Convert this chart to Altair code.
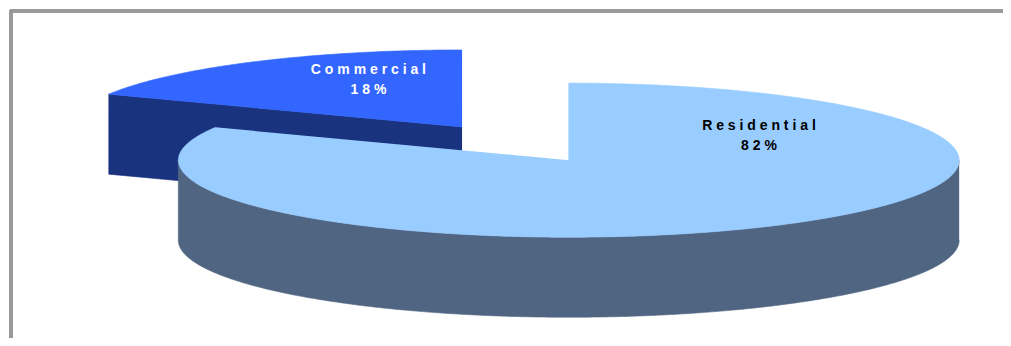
import numpy as np
import pandas as pd
import altair as alt

# ---- data ----
categories = ["Residential", "Commercial"]
shares = [82, 18]
top_colors = ["#99CCFF", "#3366FF"]
side_colors = ["#4F6581", "#1A337F"]
label_colors = ["#000000", "#FFFFFF"]

# ---- layout (chart pixels) ----
W, H = 995, 330
CX, CY = 561, 152          # pie centre inside the plot
RX, RY, DEPTH = 392, 78, 81
EXPLODE = [0.0, 0.51]
LABEL_OFFSET = [(191, 31), (-94, 54)]
LINE_GAP = 21


def spaced(s):
    return " ".join(list(s))


total = float(sum(shares))
bounds = np.concatenate([[0], np.cumsum(shares)]) / total * 360.0

slices = []
for k, cat in enumerate(categories):
    a, b = bounds[k], bounds[k + 1]
    mid = np.radians((a + b) / 2)
    ox = EXPLODE[k] * RX * np.sin(mid)
    oy = EXPLODE[k] * RY * np.cos(mid)
    slices.append(dict(k=k, a=a, b=b, ox=ox, oy=oy, back=np.cos(mid)))


def rim(cx, cy, a, b, dz=0.0):
    n = max(2, int(abs(b - a) * 2) + 1)
    t = np.radians(np.linspace(a, b, n))
    return list(zip(cx + RX * np.sin(t), cy + RY * np.cos(t) - dz))


rows = []
pieces = []  # (name, colour)
for s in sorted(slices, key=lambda d: -d["back"]):
    k, a, b, cx, cy = s["k"], s["a"], s["b"], s["ox"], s["oy"]
    faces = []
    # radial face at start angle
    if np.sin(np.radians(a)) < -1e-6:
        pa = rim(cx, cy, a, a)[0]
        faces.append([(cx, cy), pa, (pa[0], pa[1] - DEPTH), (cx, cy - DEPTH)])
    # radial face at end angle
    if np.sin(np.radians(b)) > 1e-6:
        pb = rim(cx, cy, b, b)[0]
        faces.append([(cx, cy), pb, (pb[0], pb[1] - DEPTH), (cx, cy - DEPTH)])
    # curved front side
    lo, hi = max(a, 90.0), min(b, 270.0)
    if hi > lo:
        faces.append(rim(cx, cy, lo, hi) + rim(cx, cy, hi, lo, DEPTH))
    for j, f in enumerate(faces):
        name = f"{categories[k]}_side{j}"
        pieces.append((name, side_colors[k]))
        for i, (x, y) in enumerate(f):
            rows.append(dict(piece=name, i=i, x=x, y=y))
    # top face
    name = f"{categories[k]}_top"
    pieces.append((name, top_colors[k]))
    poly = [(cx, cy)] + rim(cx, cy, a, b)
    for i, (x, y) in enumerate(poly):
        rows.append(dict(piece=name, i=i, x=x, y=y))

geo = pd.DataFrame(rows)

xs = alt.Scale(domain=[-CX, W - CX], nice=False, zero=False)
ys = alt.Scale(domain=[CY - H, CY], nice=False, zero=False)

layers = []
for name, col in pieces:
    layers.append(
        alt.Chart(geo)
        .transform_filter(alt.datum.piece == name)
        .mark_line(fill=col, stroke=col, strokeWidth=0.6, interpolate="linear")
        .encode(
            x=alt.X("x:Q", scale=xs, axis=None),
            y=alt.Y("y:Q", scale=ys, axis=None),
            order=alt.Order("i:Q"),
        )
    )

lab_rows = []
for s in slices:
    k = s["k"]
    lx = s["ox"] + LABEL_OFFSET[k][0]
    ly = s["oy"] + LABEL_OFFSET[k][1]
    pct = f"{round(shares[k] / total * 100)}%"
    lab_rows.append(dict(x=lx, y=ly, text=spaced(categories[k]), color=label_colors[k]))
    lab_rows.append(dict(x=lx, y=ly - LINE_GAP, text=spaced(pct), color=label_colors[k]))
labels_df = pd.DataFrame(lab_rows)

labels = (
    alt.Chart(labels_df)
    .mark_text(font="Liberation Sans", fontSize=14, fontWeight="bold",
               align="center", baseline="alphabetic")
    .encode(
        x=alt.X("x:Q", scale=xs, axis=None),
        y=alt.Y("y:Q", scale=ys, axis=None),
        text="text:N",
        color=alt.Color("color:N", scale=None, legend=None),
    )
)

frame_top = alt.Chart(labels_df).mark_rule(color="#999999", strokeWidth=4).encode(
    x=alt.value(0), x2=alt.value(W), y=alt.value(1)
)
frame_left = alt.Chart(labels_df).mark_rule(color="#999999", strokeWidth=4).encode(
    y=alt.value(0), y2=alt.value(H), x=alt.value(1)
)

chart = (
    alt.layer(*layers, labels, frame_top, frame_left)
    .properties(width=W, height=H, padding=0, background="white",
                autosize=alt.AutoSizeParams(type="fit", contains="padding"))
    .configure_view(strokeWidth=0, stroke="transparent")
)

chart.save("out.html", embed_options={"renderer": "svg", "actions": False})
